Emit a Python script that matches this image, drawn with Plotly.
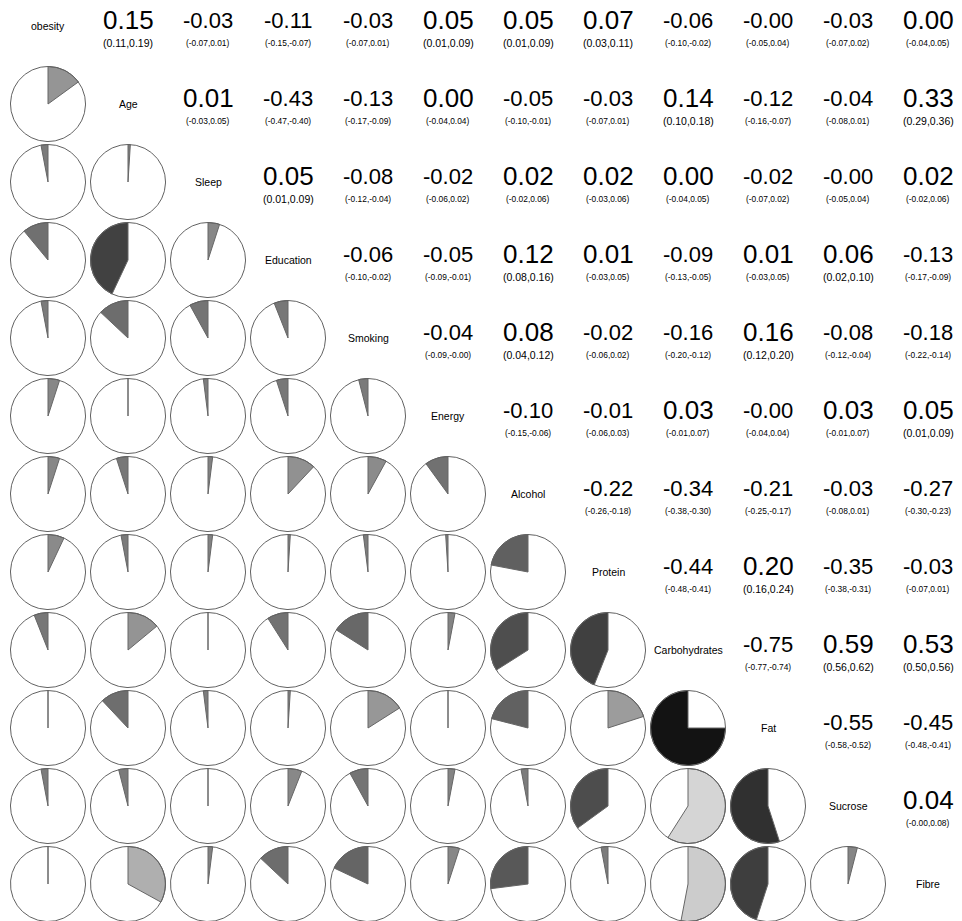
import numpy as np
import plotly.graph_objects as go

# Variables in matrix order
variables = ["obesity", "Age", "Sleep", "Education", "Smoking", "Energy",
             "Alcohol", "Protein", "Carbohydrates", "Fat", "Sucrose", "Fibre"]

# Correlation estimates, one list per row, for the columns right of the diagonal
corr_rows = [
    [0.15, -0.03, -0.11, -0.03, 0.05, 0.05, 0.07, -0.06, -0.00, -0.03, 0.00],
    [0.01, -0.43, -0.13, 0.00, -0.05, -0.03, 0.14, -0.12, -0.04, 0.33],
    [0.05, -0.08, -0.02, 0.02, 0.02, 0.00, -0.02, -0.00, 0.02],
    [-0.06, -0.05, 0.12, 0.01, -0.09, 0.01, 0.06, -0.13],
    [-0.04, 0.08, -0.02, -0.16, 0.16, -0.08, -0.18],
    [-0.10, -0.01, 0.03, -0.00, 0.03, 0.05],
    [-0.22, -0.34, -0.21, -0.03, -0.27],
    [-0.44, 0.20, -0.35, -0.03],
    [-0.75, 0.59, 0.53],
    [-0.55, -0.45],
    [0.04],
]

# Lower bounds of the 95% confidence intervals
ci_low_rows = [
    [0.11, -0.07, -0.15, -0.07, 0.01, 0.01, 0.03, -0.10, -0.05, -0.07, -0.04],
    [-0.03, -0.47, -0.17, -0.04, -0.10, -0.07, 0.10, -0.16, -0.08, 0.29],
    [0.01, -0.12, -0.06, -0.02, -0.03, -0.04, -0.07, -0.05, -0.02],
    [-0.10, -0.09, 0.08, -0.03, -0.13, -0.03, 0.02, -0.17],
    [-0.09, 0.04, -0.06, -0.20, 0.12, -0.12, -0.22],
    [-0.15, -0.06, -0.01, -0.04, -0.01, 0.01],
    [-0.26, -0.38, -0.25, -0.08, -0.30],
    [-0.48, 0.16, -0.38, -0.07],
    [-0.77, 0.56, 0.50],
    [-0.58, -0.48],
    [-0.00],
]

# Upper bounds of the 95% confidence intervals
ci_high_rows = [
    [0.19, 0.01, -0.07, 0.01, 0.09, 0.09, 0.11, -0.02, 0.04, 0.02, 0.05],
    [0.05, -0.40, -0.09, 0.04, -0.01, 0.01, 0.18, -0.07, 0.01, 0.36],
    [0.09, -0.04, 0.02, 0.06, 0.06, 0.05, 0.02, 0.04, 0.06],
    [-0.02, -0.01, 0.16, 0.05, -0.05, 0.05, 0.10, -0.09],
    [-0.00, 0.12, 0.02, -0.12, 0.20, -0.04, -0.14],
    [-0.06, 0.03, 0.07, 0.04, 0.07, 0.09],
    [-0.18, -0.30, -0.17, 0.01, -0.23],
    [-0.41, 0.24, -0.31, 0.01],
    [-0.74, 0.62, 0.56],
    [-0.52, -0.41],
    [0.08],
]

n = len(variables)

# Page / cell geometry (pixels)
PX_W, PX_H = 962, 921
CELL_W, CELL_H = 80.0, 78.0
X0, Y0 = 48.0, 26.0          # centre of the first cell
PIE_R = 37.5
rx, ry = PIE_R / CELL_W, PIE_R / CELL_H

FONT = "Liberation Sans, Arial, sans-serif"


def fmt(v):
    return f"{v:.2f}"


def gray(r):
    # grey ramp: mid-grey at zero, darker for negative, lighter for positive
    g = int(round(max(0.0, min(255.0, 127.5 + 145.0 * r))))
    return f"rgb({g},{g},{g})"


def wedge(cx, cy, r, steps=180):
    sgn = np.copysign(1.0, r)
    span = 2 * np.pi * abs(r)
    k = max(2, int(np.ceil(steps * abs(r))) + 1)
    t = np.linspace(0.0, span, k)
    xs = cx + sgn * rx * np.sin(t)
    ys = cy - ry * np.cos(t)
    return [cx] + list(xs) + [cx], [cy] + list(ys) + [cy]


fig = go.Figure()

# Pie panels below the diagonal: filled angle proportional to |r|,
# clockwise for positive, counter-clockwise for negative
circ_x, circ_y = [], []
tt = np.linspace(0, 2 * np.pi, 241)
for i in range(n):
    for j in range(i):
        r = corr_rows[j][i - j - 1]
        cx, cy = j, i
        wx, wy = wedge(cx, cy, r)
        fig.add_trace(go.Scatter(
            x=wx, y=wy, mode="lines", fill="toself",
            fillcolor=gray(r), line=dict(color="#666666", width=1),
            hoverinfo="skip"))
        circ_x += list(cx + rx * np.sin(tt)) + [None]
        circ_y += list(cy - ry * np.cos(tt)) + [None]

fig.add_trace(go.Scatter(x=circ_x, y=circ_y, mode="lines",
                         line=dict(color="#616161", width=1),
                         hoverinfo="skip"))

annotations = []

# Variable names on the diagonal
for k, name in enumerate(variables):
    annotations.append(dict(x=k, y=k, text=name, showarrow=False,
                            font=dict(family=FONT, size=10.5, color="black"),
                            xanchor="center", yanchor="middle"))

# Estimates and confidence intervals above the diagonal
for i in range(n):
    for j in range(i + 1, n):
        est = fmt(corr_rows[i][j - i - 1])
        ci = "(" + fmt(ci_low_rows[i][j - i - 1]) + "," + fmt(ci_high_rows[i][j - i - 1]) + ")"
        est_size = 22 if "-" in est else 26
        ci_size = 8.4 if "-" in ci else 10.5
        annotations.append(dict(x=j, y=i - 0.075, text=est, showarrow=False,
                                font=dict(family=FONT, size=est_size, color="black"),
                                xanchor="center", yanchor="middle"))
        annotations.append(dict(x=j, y=i + 0.22, text=ci, showarrow=False,
                                font=dict(family=FONT, size=ci_size, color="black"),
                                xanchor="center", yanchor="middle"))

fig.update_layout(
    width=PX_W, height=PX_H,
    margin=dict(l=0, r=0, t=0, b=0),
    paper_bgcolor="white", plot_bgcolor="white",
    showlegend=False,
    annotations=annotations,
    xaxis=dict(visible=False, range=[-X0 / CELL_W, (PX_W - X0) / CELL_W], fixedrange=True),
    yaxis=dict(visible=False, range=[(PX_H - Y0) / CELL_H, -Y0 / CELL_H], fixedrange=True),
)

fig.write_html("out.html")
